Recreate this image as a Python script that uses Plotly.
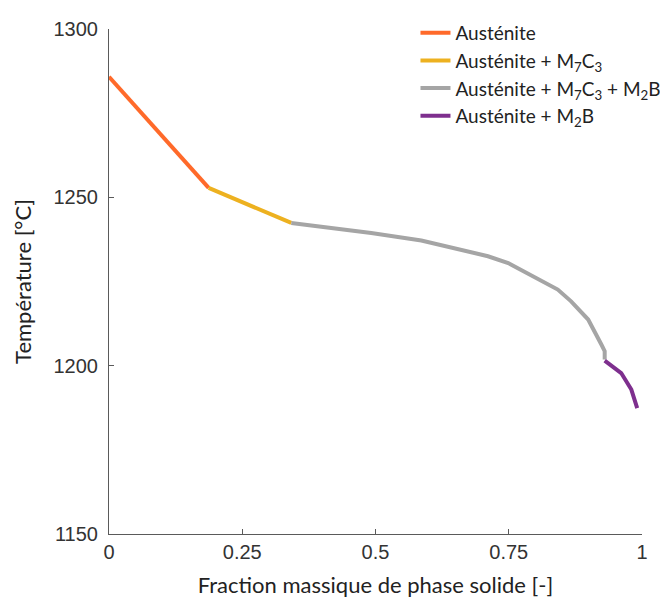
import plotly.graph_objects as go

# Data
aus_x = [0.0, 0.187]
aus_t = [1285.8, 1252.8]

m7c3_x = [0.187, 0.342]
m7c3_t = [1252.8, 1242.4]

tri_x = [0.342, 0.38, 0.43, 0.492, 0.586, 0.667, 0.711, 0.749, 0.792, 0.842, 0.867, 0.899, 0.924, 0.930, 0.930]
tri_t = [1242.4, 1241.7, 1240.7, 1239.4, 1237.2, 1234.3, 1232.5, 1230.5, 1227.0, 1222.6, 1219.1, 1213.7, 1206.2, 1204.3, 1201.8]

m2b_x = [0.930, 0.961, 0.980, 0.991]
m2b_t = [1201.5, 1197.8, 1192.9, 1187.4]

names = ["Austénite",
         "Austénite + M<sub>7</sub>C<sub>3</sub>",
         "Austénite + M<sub>7</sub>C<sub>3</sub> + M<sub>2</sub>B",
         "Austénite + M<sub>2</sub>B"]
colors = ["#FF6A2A", "#EDB120", "#A5A5A5", "#7E2F8E"]

x_ticks = [0, 0.25, 0.5, 0.75, 1]
x_ticktext = ["0", "0.25", "0.5", "0.75", "1"]
y_ticks = [1150, 1200, 1250, 1300]

fig = go.Figure()
for xs, ts, nm, col in zip([aus_x, m7c3_x, tri_x, m2b_x], [aus_t, m7c3_t, tri_t, m2b_t], names, colors):
    fig.add_trace(go.Scatter(x=xs, y=ts, mode="lines", name=nm,
                             line=dict(color=col, width=4)))

axis_common = dict(showgrid=False, zeroline=False, showline=True, linecolor="#5a5a5a",
                   linewidth=1, ticks="inside", ticklen=5, tickcolor="#5a5a5a",
                   tickfont=dict(family="Liberation Sans, Arial", size=20, color="#333333"))

fig.update_xaxes(range=[0, 1], tickvals=x_ticks, ticktext=x_ticktext,
                 title=dict(text="Fraction massique de phase solide [-]",
                            font=dict(family="Lato", size=22, color="#222222")),
                 **axis_common)
fig.update_yaxes(range=[1150, 1300], tickvals=y_ticks, ticklabelstandoff=6,
                 title=dict(text="Température [°C]",
                            font=dict(family="Lato", size=22, color="#222222")),
                 **axis_common)

fig.update_layout(
    width=668, height=598,
    margin=dict(l=101, r=34, t=21, b=72, autoexpand=False),
    plot_bgcolor="white", paper_bgcolor="white",
    legend=dict(x=0.575, y=1.03, xanchor="left", yanchor="top",
                font=dict(family="Lato", size=19, color="#222222"),
                bgcolor="rgba(0,0,0,0)", tracegroupgap=0),
)

fig.write_html("out.html")
